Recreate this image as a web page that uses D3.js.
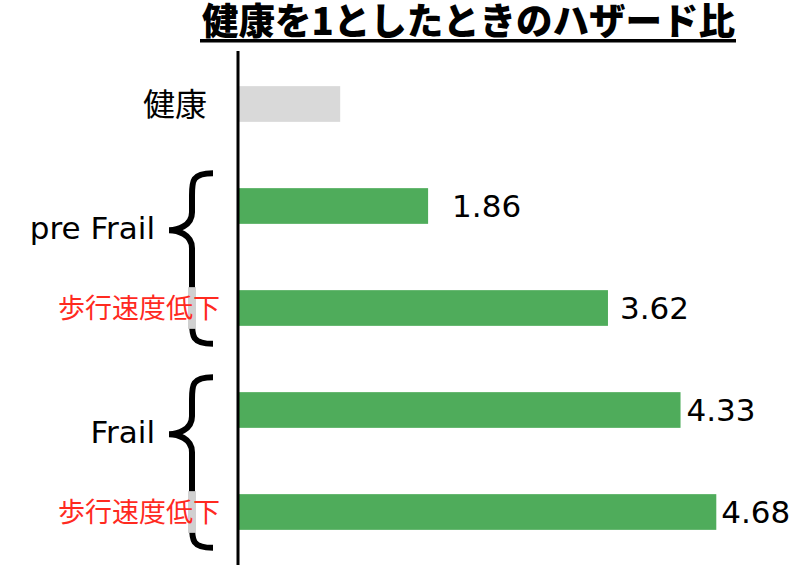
<!DOCTYPE html>
<html>
<head>
<meta charset="utf-8">
<script src="https://cdn.jsdelivr.net/npm/d3@7.9.0/dist/d3.min.js"></script>
<style>
  body { margin: 0; background: #fff; }
  svg { display: block; }
</style>
</head>
<body>
<svg id="chart" width="800" height="574"></svg>
<script>
// data
const titleText = '健康を1としたときのハザード比';
const rowKeys = ['健康', 'pre Frail', 'pre Frail 歩行速度低下', 'Frail', 'Frail 歩行速度低下'];
const rowLabels = ['健康', '', '歩行速度低下', '', '歩行速度低下'];
const hazardRatios = [1, 1.86, 3.62, 4.33, 4.68];
const valueLabels = ['', '1.86', '3.62', '4.33', '4.68'];
const groupLabels = ['pre Frail', 'Frail'];
const groupRows = [['pre Frail', 'pre Frail 歩行速度低下'], ['Frail', 'Frail 歩行速度低下']];

const svg = d3.select('#chart');
const latin = '"DejaVu Sans", Verdana, sans-serif';
const cjk = '"Noto Sans CJK JP", "Noto Sans", sans-serif';

// scales
let x = d3.scaleLinear().domain([0, 5]).range([238, 749]);
let y = d3.scaleBand().domain(rowKeys).range([53, 563]).paddingInner(0.65).paddingOuter(0.325);

// title
svg.append('text')
    .attr('x', 202)
    .attr('y', 35)
    .attr('textLength', 533)
    .attr('lengthAdjust', 'spacingAndGlyphs')
    .style('font-family', cjk)
    .style('font-weight', 900)
    .style('font-size', '37px')
    .text(titleText);

svg.append('rect')
    .attr('x', 200).attr('y', 39)
    .attr('width', 536).attr('height', 3.5)
    .attr('fill', '#000');

// bars
svg.selectAll('rect.bar')
    .data(rowKeys)
    .join('rect')
    .attr('class', 'bar')
    .attr('x', x(0))
    .attr('y', (d) => y(d))
    .attr('width', (d, i) => x(hazardRatios[i]) - x(0))
    .attr('height', y.bandwidth())
    .attr('fill', (d, i) => (i === 0 ? '#d9d9d9' : '#4fac5b'));

// value labels (gap after bar varies in the original)
const labelGap = [0, 24, 12, 6, 5];
svg.selectAll('text.value')
    .data(rowKeys)
    .join('text')
    .attr('class', 'value')
    .attr('x', (d, i) => x(hazardRatios[i]) + labelGap[i])
    .attr('y', (d) => y(d) + y.bandwidth() / 2 + 11)
    .style('font-family', latin)
    .style('font-size', '31px')
    .text((d, i) => valueLabels[i]);

// axis line
svg.append('line')
    .attr('x1', x(0)).attr('x2', x(0))
    .attr('y1', 51).attr('y2', 565)
    .attr('stroke', '#000')
    .attr('stroke-width', 3);

// braces
function bracePath(top, bottom, tipY) {
    let xr = 213, xv = 192, xt = 169;
    let p = d3.path();
    p.moveTo(xr, top);
    p.bezierCurveTo(xv, top, xv, top + 8, xv, top + 22);
    p.lineTo(xv, tipY - 18);
    p.bezierCurveTo(xv, tipY - 4, xt + 8, tipY, xt, tipY);
    p.bezierCurveTo(xt + 8, tipY, xv, tipY + 4, xv, tipY + 18);
    p.lineTo(xv, bottom - 22);
    p.bezierCurveTo(xv, bottom - 8, xv, bottom, xr, bottom);
    return p.toString();
}

groupRows.forEach((rows, gi) => {
    let top = y(rows[0]) - 15;
    let bottom = y(rows[rows.length - 1]) + y.bandwidth() + 18;
    let tipY = top + 57;

    svg.append('path')
        .attr('d', bracePath(top, bottom, tipY))
        .attr('fill', 'none')
        .attr('stroke', '#000')
        .attr('stroke-width', 6);

    // grey strip over lower part of brace, as in the source slide
    let last = rows[rows.length - 1];
    svg.append('rect')
        .attr('x', 188)
        .attr('y', y(last) - 3)
        .attr('width', 8)
        .attr('height', y.bandwidth() + 6)
        .attr('fill', '#d0d0d0');

    svg.append('text')
        .attr('x', 155)
        .attr('y', tipY + 9)
        .attr('text-anchor', 'end')
        .style('font-family', latin)
        .style('font-size', '31px')
        .text(groupLabels[gi]);
});

// row labels
svg.selectAll('text.row')
    .data(rowKeys)
    .join('text')
    .attr('class', 'row')
    .attr('x', (d, i) => (i === 0 ? 207 : 220))
    .attr('y', (d) => y(d) + y.bandwidth() / 2)
    .attr('dy', '0.36em')
    .attr('text-anchor', 'end')
    .style('font-family', cjk)
    .style('font-size', (d, i) => (i === 0 ? '32px' : '27px'))
    .attr('fill', (d, i) => (i === 0 ? '#000' : '#ff2a1f'))
    .text((d, i) => rowLabels[i]);
</script>
</body>
</html>
